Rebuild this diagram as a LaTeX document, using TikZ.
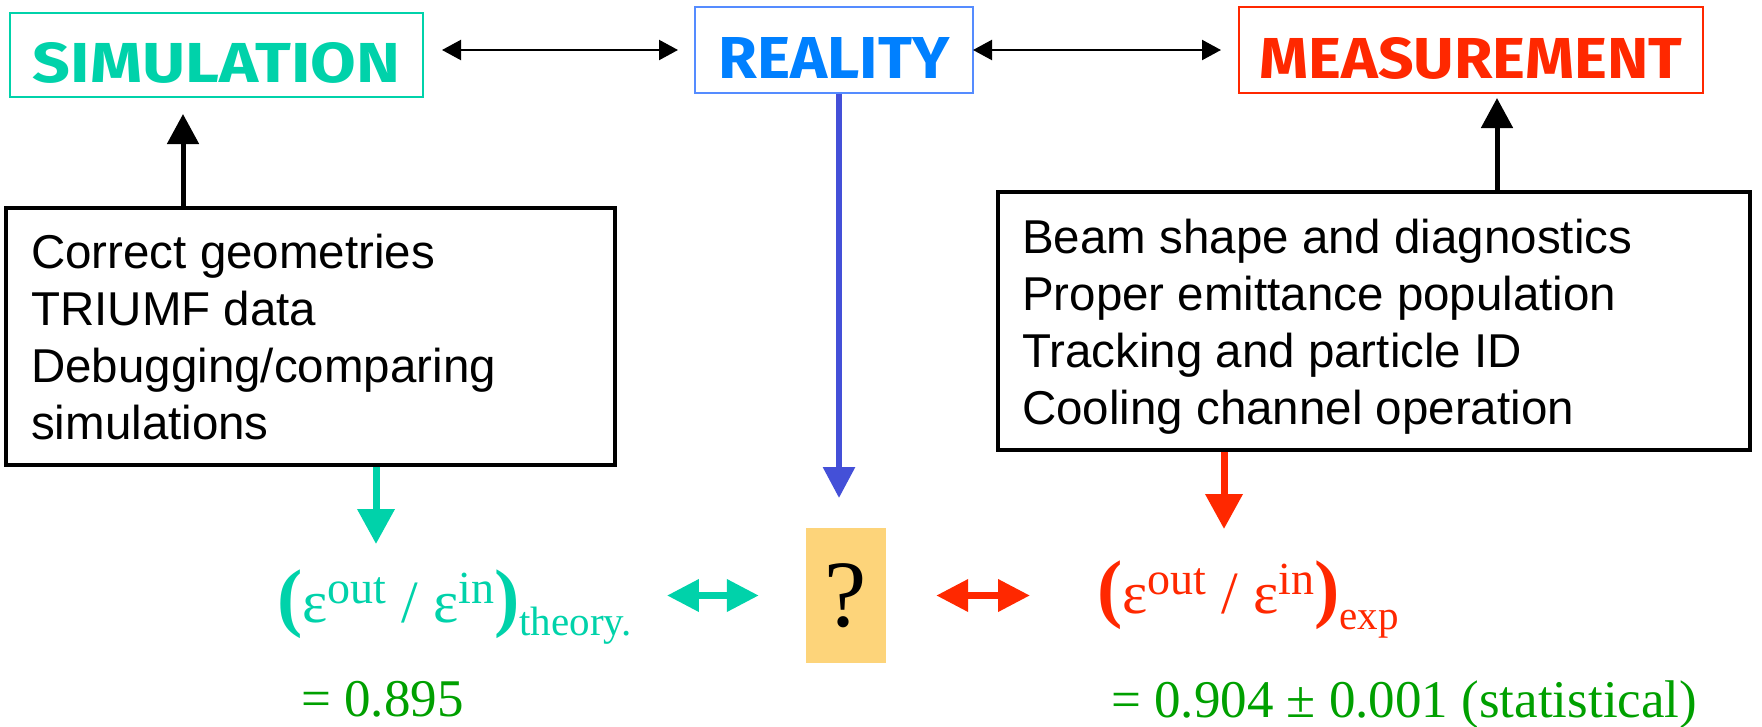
\documentclass[tikz,border=0pt]{standalone}
\usepackage{fontspec}
\setmainfont{Liberation Serif}
\newfontfamily\listfont{Liberation Sans}
\newfontfamily\titlefont{Fira Sans}
\usetikzlibrary{arrows.meta}
\definecolor{simteal}{RGB}{0,210,170}
\definecolor{realblue}{RGB}{0,128,255}
\definecolor{realframe}{RGB}{85,140,255}
\definecolor{measred}{RGB}{255,40,0}
\definecolor{arrowblue}{RGB}{68,80,216}
\definecolor{resgreen}{RGB}{0,160,0}
\definecolor{qyellow}{RGB}{253,212,122}
\newcommand{\ttlword}[3]{\resizebox{#1pt}{#2pt}{\titlefont\bfseries #3}}
\newcommand{\supsz}{\fontsize{46}{50}\selectfont}
\newcommand{\subsz}{\fontsize{41}{50}\selectfont}
\newcommand{\epssz}{\fontsize{60}{60}\selectfont}
\newcommand{\parsz}{\fontsize{76}{80}\selectfont\bfseries}
\newcommand{\ratiotext}[2]{{\parsz(}{\epssz ε}\raisebox{19pt}{\supsz out}{\epssz\ /\ ε}\raisebox{19pt}{\supsz in}{\parsz)}\raisebox{-#2pt}{\subsz #1}}
\begin{document}
\begin{tikzpicture}[x=1pt,y=-1pt,
  titlebox/.style={draw, line width=2pt, inner sep=0pt, text depth=0pt},
  listbox/.style={draw=black, line width=4.5pt, inner sep=0pt},
  listtext/.style={font=\listfont\fontsize{47.5}{57}\selectfont, align=left, inner sep=0pt, anchor=north west},
  thinbi/.style={line width=2.2pt, {Triangle[length=19pt,width=20pt]}-{Triangle[length=19pt,width=20pt]}},
  upblack/.style={line width=5pt, -{Triangle[length=30pt,width=31pt]}},
  downblue/.style={line width=6pt, arrowblue, -{Triangle[length=31pt,width=31pt]}},
  fatdown/.style={line width=7pt, -{Triangle[length=35pt,width=36pt]}},
  fatbi/.style={line width=7pt, {Triangle[length=32pt,width=31pt]}-{Triangle[length=32pt,width=31pt]}},
  formula/.style={font=\fontsize{52}{60}\selectfont, inner sep=0pt, anchor=base west},
  result/.style={font=\fontsize{53}{60}\selectfont, text=resgreen, inner sep=0pt, anchor=base west}
]
\useasboundingbox (0,0) rectangle (1762,726);
\fill[white] (0,0) rectangle (1762,726);

% title boxes
\node[titlebox, draw=simteal, text=simteal, minimum width=413pt, minimum height=84pt, text height=54pt] (sim) at (216.5,55) {\ttlword{367}{40}{SIMULATION}};
\node[titlebox, draw=realframe, text=realblue, minimum width=278pt, minimum height=86pt, text height=56pt] (real) at (834,50) {\ttlword{231}{41}{REALITY}};
\node[titlebox, draw=measred, text=measred, minimum width=464pt, minimum height=86pt, text height=56pt] (meas) at (1471,50) {\ttlword{423}{41}{MEASUREMENT}};

\draw[thinbi] ([xshift=18pt]sim.east |- real.west) -- ([xshift=-16pt]real.west);
\draw[thinbi] ([xshift=-1pt]real.east) -- ([xshift=-17pt]meas.west);

% list boxes
\node[listbox, minimum width=609pt, minimum height=257pt] (lbox) at (310.5,336.5) {};
\node[listtext] (ltext) at (31,234) {Correct geometries\\TRIUMF data\\Debugging/comparing\\simulations};
\node[listbox, minimum width=752pt, minimum height=258pt] (rbox) at (1374,321) {};
\node[listtext] (rtext) at (1022,219) {Beam shape and diagnostics\\Proper emittance population\\Tracking and particle ID\\Cooling channel operation};

\coordinate (lup) at (183,114);
\coordinate (rup) at (1497,98);
\draw[upblack] (lbox.north -| lup) -- (lup);
\draw[upblack] (rbox.north -| rup) -- (rup);

% question box
\node[fill=qyellow, minimum width=80pt, minimum height=135pt, inner sep=0pt, font=\fontsize{95}{100}\selectfont] (q) at (846,595.5) {?};

\coordinate (bt) at (839,498);
\draw[downblue] (real.south -| bt) -- (bt);
\coordinate (tt) at (376,544);
\draw[fatdown, simteal] (lbox.south -| tt) -- (tt);
\coordinate (rt) at (1224,529);
\draw[fatdown, measred] (rbox.south -| rt) -- (rt);

% formulas
\node[formula, text=simteal] (tf) at (277,622) {\ratiotext{theory.}{13}};
\node[formula, text=measred] (rf) at (1097,613) {\ratiotext{exp}{16}};
\node[result] (tres) at (301,716) {= 0.895};
\node[result] (rres) at (1111,717) {= 0.904 ± 0.001 (statistical)};

\draw[fatbi, simteal] ([xshift=35pt]tf.east |- q.west) -- ([xshift=-47pt]q.west);
\draw[fatbi, measred] ([xshift=50pt]q.east) -- ([xshift=-67pt]rf.west |- q.east);
\end{tikzpicture}
\end{document}
